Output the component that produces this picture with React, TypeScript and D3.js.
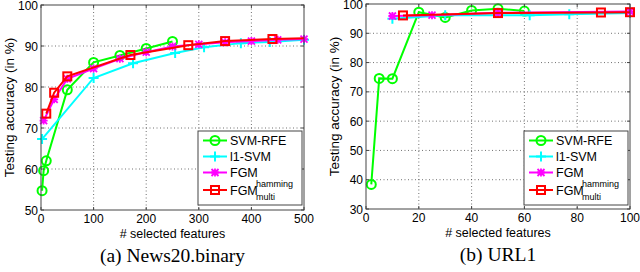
import * as d3 from "d3";

// (a) News20.binary
const newsRfeX = [2, 5, 10, 50, 100, 150, 200, 250];
const newsRfeY = [54.7, 59.6, 62, 79.3, 86, 87.7, 89.4, 91.1];
const newsL1X = [2, 100, 175, 255, 310, 380, 435, 500];
const newsL1Y = [67.3, 82.2, 85.8, 88.3, 89.7, 90.7, 91.0, 91.5];
const newsFgmX = [5, 25, 50, 100, 150, 200, 250, 300, 350, 400, 450, 500];
const newsFgmY = [71.8, 77, 82, 84.5, 86.9, 88.5, 89.9, 90.4, 90.9, 91.2, 91.5, 91.7];
const newsMultiX = [10, 25, 50, 170, 280, 350, 440, 500];
const newsMultiY = [73.5, 78.6, 82.6, 87.8, 90.2, 91.2, 91.7, 91.9];

// (b) URL1
const urlRfeX = [2, 5, 10, 20, 30, 40, 50, 60];
const urlRfeY = [38.4, 74.6, 74.5, 97.2, 95.4, 97.8, 98.4, 97.6];
const urlL1X = [10, 30, 62, 77, 100];
const urlL1Y = [95.0, 96.2, 96.2, 96.5, 96.9];
const urlFgmX = [10, 25, 50, 100];
const urlFgmY = [95.9, 96.2, 97.0, 97.4];
const urlMultiX = [14, 50, 89, 100];
const urlMultiY = [96.1, 96.9, 97.1, 97.2];

const newsXTicks = [0, 100, 200, 300, 400, 500];
const newsYTicks = [50, 60, 70, 80, 90, 100];
const urlXTicks = [0, 20, 40, 60, 80, 100];
const urlYTicks = [30, 40, 50, 60, 70, 80, 90, 100];

const seriesNames = ["SVM-RFE", "l1-SVM", "FGM", "FGM"];
const seriesColors = ["#00ff00", "#00ffff", "#ff00ff", "#ff0000"];
const seriesMarkers = ["circle", "plus", "star", "square"];

const font = "'Liberation Sans', Arial, Helvetica, sans-serif";

function Marker({kind, x, y, color}: {kind: string; x: number; y: number; color: string}) {
  if (kind === "circle")
    return <circle cx={x} cy={y} r={4.5} fill="none" stroke={color} strokeWidth={2} />;
  if (kind === "square")
    return <rect x={x - 4} y={y - 4} width={8} height={8} fill="none" stroke={color} strokeWidth={2} />;
  if (kind === "plus")
    return <path d={`M${x - 5},${y}H${x + 5}M${x},${y - 5}V${y + 5}`} stroke={color} strokeWidth={2} />;
  // star: plus + x
  return (
    <path
      d={`M${x - 4},${y}H${x + 4}M${x},${y - 4}V${y + 4}M${x - 3.5},${y - 3.5}L${x + 3.5},${y + 3.5}M${x - 3.5},${y + 3.5}L${x + 3.5},${y - 3.5}`}
      stroke={color}
      strokeWidth={1.8}
    />
  );
}

function Panel({
  left, right, top, bottom, xDomain, yDomain, xTicks, yTicks, series, caption, clipLast,
}: {
  left: number; right: number; top: number; bottom: number;
  xDomain: [number, number]; yDomain: [number, number];
  xTicks: number[]; yTicks: number[];
  series: {x: number[]; y: number[]}[];
  caption: string; clipLast?: boolean;
}) {
  const x = d3.scaleLinear(xDomain, [left, right]);
  const y = d3.scaleLinear(yDomain, [bottom, top]);
  const line = d3.line<[number, number]>((d) => x(d[0]), (d) => y(d[1]));
  const cx = (left + right) / 2;
  const lgX = right - 106, lgY = 131, lgW = 104, lgH = 74;
  const rowY = [9.5, 25.5, 41.5, 59];
  return (
    <g>
      <rect x={left} y={top} width={right - left} height={bottom - top} fill="white" />
      {xTicks.slice(1, -1).map((t) => (
        <line key={"gx" + t} x1={x(t)} x2={x(t)} y1={top} y2={bottom} stroke="#333" strokeWidth={0.7} strokeDasharray="1,2.5" />
      ))}
      {yTicks.slice(1, -1).map((t) => (
        <line key={"gy" + t} x1={left} x2={right} y1={y(t)} y2={y(t)} stroke="#333" strokeWidth={0.7} strokeDasharray="1,2.5" />
      ))}
      {series.map((s, i) => (
        <g key={i}>
          <path d={line(s.x.map((v, j) => [v, s.y[j]]) as [number, number][]) || ""} fill="none" stroke={seriesColors[i]} strokeWidth={2} />
          {s.x.map((v, j) =>
            clipLast && i === 3 && j === s.x.length - 1 ? null : (
              <Marker key={j} kind={seriesMarkers[i]} x={x(v)} y={y(s.y[j])} color={seriesColors[i]} />
            )
          )}
        </g>
      ))}
      <rect x={left} y={top} width={right - left} height={bottom - top} fill="none" stroke="#444" strokeWidth={1} />
      {xTicks.map((t) => (
        <g key={"tx" + t}>
          <line x1={x(t)} x2={x(t)} y1={bottom} y2={bottom - 3} stroke="#444" />
          <line x1={x(t)} x2={x(t)} y1={top} y2={top + 3} stroke="#444" />
          <text x={x(t)} y={bottom + 13} textAnchor="middle" fontSize={12} fontFamily={font}>{t}</text>
        </g>
      ))}
      {yTicks.map((t) => (
        <g key={"ty" + t}>
          <line x1={left} x2={left + 3} y1={y(t)} y2={y(t)} stroke="#444" />
          <line x1={right} x2={right - 3} y1={y(t)} y2={y(t)} stroke="#444" />
          <text x={left - 3} y={y(t) + 4.5} textAnchor="end" fontSize={12} fontFamily={font}>{t}</text>
        </g>
      ))}
      <text x={cx} y={bottom + 28} textAnchor="middle" fontSize={12.5} fontFamily={font}># selected features</text>
      <text transform={`translate(${left - 27},${(top + bottom) / 2}) rotate(-90)`} textAnchor="middle" fontSize={13.5} fontFamily={font}>
        Testing accuracy (in %)
      </text>
      <text x={cx} y={bottom + 52} textAnchor="middle" fontSize={19.5} fontFamily="'Liberation Serif', 'Times New Roman', serif">{caption}</text>
      <g transform={`translate(${lgX},${lgY})`}>
        <rect width={lgW} height={lgH} fill="white" stroke="#444" strokeWidth={1} />
        {rowY.map((ry, i) => (
          <g key={i}>
            <line x1={5} x2={29} y1={ry} y2={ry} stroke={seriesColors[i]} strokeWidth={2} />
            <Marker kind={seriesMarkers[i]} x={17} y={ry} color={seriesColors[i]} />
            <text x={32} y={ry + 4.5} fontSize={12.5} fontFamily={font}>{i === 1 ? "l1-SVM" : seriesNames[i]}</text>
            {i === 3 && (
              <>
                <text x={58} y={ry - 3} fontSize={9} fontFamily={font}>hamming</text>
                <text x={58} y={ry + 10} fontSize={9} fontFamily={font}>multi</text>
              </>
            )}
          </g>
        ))}
      </g>
    </g>
  );
}

export default function App() {
  return (
    <svg width={640} height={272} style={{position: "absolute", left: 0, top: 0}}>
      <rect width={640} height={272} fill="white" />
      <Panel
        left={41} right={304} top={5} bottom={210}
        xDomain={[0, 500]} yDomain={[50, 100]}
        xTicks={newsXTicks} yTicks={newsYTicks}
        series={[
          {x: newsRfeX, y: newsRfeY},
          {x: newsL1X, y: newsL1Y},
          {x: newsFgmX, y: newsFgmY},
          {x: newsMultiX, y: newsMultiY},
        ]}
        caption="(a) News20.binary"
        clipLast
      />
      <Panel
        left={366} right={630} top={4} bottom={209}
        xDomain={[0, 100]} yDomain={[30, 100]}
        xTicks={urlXTicks} yTicks={urlYTicks}
        series={[
          {x: urlRfeX, y: urlRfeY},
          {x: urlL1X, y: urlL1Y},
          {x: urlFgmX, y: urlFgmY},
          {x: urlMultiX, y: urlMultiY},
        ]}
        caption="(b) URL1"
      />
    </svg>
  );
}
